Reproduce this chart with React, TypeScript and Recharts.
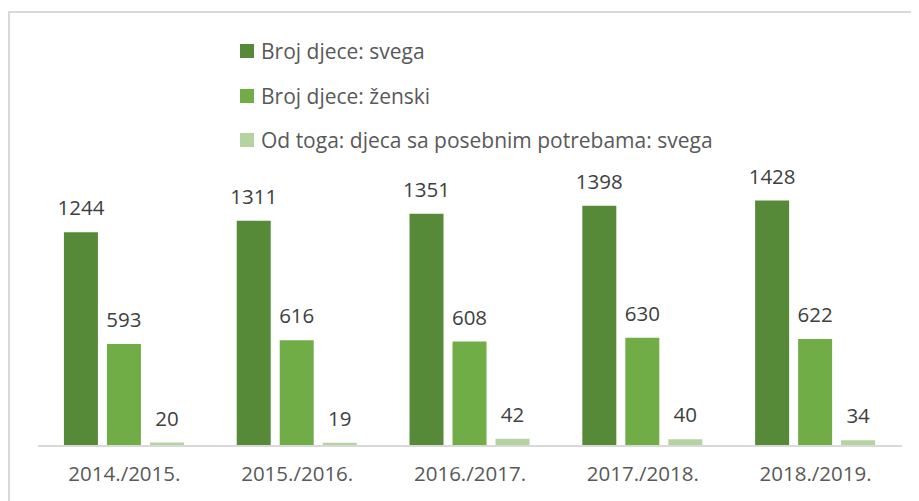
import React from "react";
import { BarChart, Bar, XAxis, YAxis, LabelList } from "recharts";

const categories = ["2014./2015.", "2015./2016.", "2016./2017.", "2017./2018.", "2018./2019."];
const ukupno = [1244, 1311, 1351, 1398, 1428];
const zenski = [593, 616, 608, 630, 622];
const posebne = [20, 19, 42, 40, 34];

const seriesNames = [
  "Broj djece: svega",
  "Broj djece: ženski",
  "Od toga: djeca sa posebnim potrebama: svega",
];
const colors = ["#578a38", "#70ad47", "#b4d3a0"];

const data = categories.map((c, i) => ({
  name: c,
  a: ukupno[i],
  b: zenski[i],
  c: posebne[i],
}));

const FONT = "'Open Sans', 'Noto Sans', sans-serif";

const CustomLegend = () => (
  <div
    style={{
      position: "absolute",
      left: 230,
      top: 16,
      fontFamily: FONT,
      fontSize: 21,
      color: "#595959",
      whiteSpace: "nowrap",
    }}
  >
    {seriesNames.map((n, i) => (
      <div key={n} style={{ display: "flex", alignItems: "center", height: 44.5 }}>
        <div style={{ width: 14, height: 14, background: colors[i], marginRight: 7 }} />
        <span>{n}</span>
      </div>
    ))}
  </div>
);

export default function App() {
  return (
    <div
      style={{
        marginTop: 3,
        borderTop: "2px solid #d9d9d9",
        borderLeft: "2px solid #d9d9d9",
        width: 1000,
        height: 600,
        position: "relative",
      }}
    >
      <BarChart
        width={909}
        height={488}
        data={data}
        margin={{ top: 158, right: 17, bottom: 0, left: 28 }}
        barCategoryGap="15%"
        barGap={9}
      >
        <XAxis
          dataKey="name"
          height={55}
          axisLine={{ stroke: "#d9d9d9", strokeWidth: 2 }}
          tickLine={false}
          tickMargin={14}
          tick={{ fill: "#595959", fontSize: 20.5, fontFamily: FONT }}
        />
        <YAxis hide domain={[0, 1600]} />
        <Bar dataKey="a" fill={colors[0]} isAnimationActive={false}>
          <LabelList dataKey="a" position="top" offset={17} fill="#404040" fontSize={20.5} fontFamily={FONT} />
        </Bar>
        <Bar dataKey="b" fill={colors[1]} isAnimationActive={false}>
          <LabelList dataKey="b" position="top" offset={17} fill="#404040" fontSize={20.5} fontFamily={FONT} />
        </Bar>
        <Bar dataKey="c" fill={colors[2]} isAnimationActive={false}>
          <LabelList dataKey="c" position="top" offset={17} fill="#404040" fontSize={20.5} fontFamily={FONT} />
        </Bar>
      </BarChart>
      <CustomLegend />
    </div>
  );
}
